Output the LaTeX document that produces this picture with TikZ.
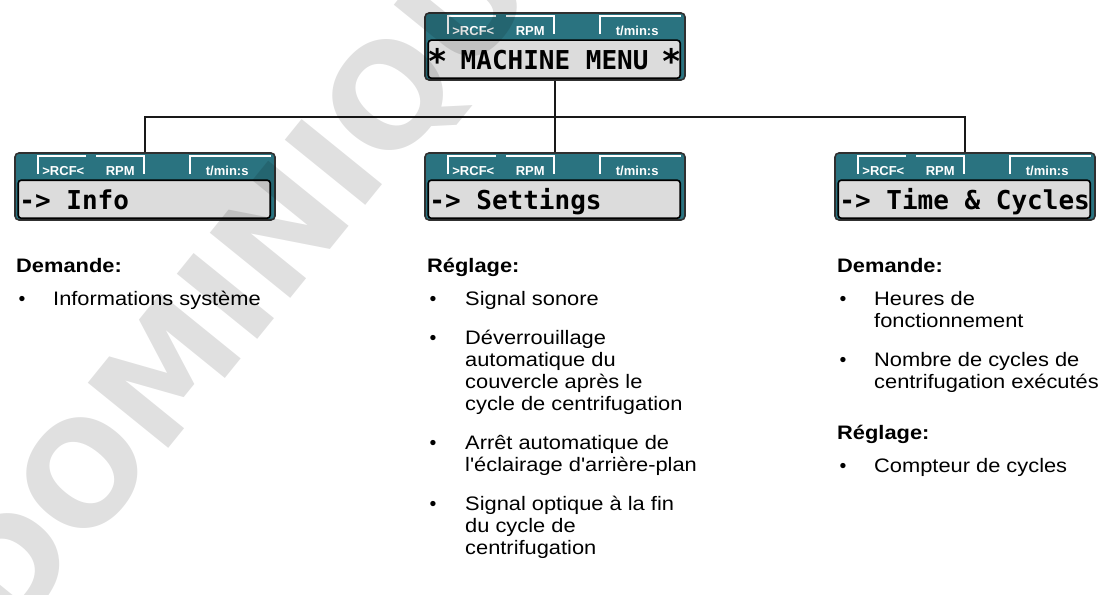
\documentclass[tikz,border=0pt]{standalone}
\usepackage{fontspec}
\usepackage{graphicx}
\setmainfont{Liberation Sans}[Ligatures=TeXOff]
\newfontfamily\lcdfont{DejaVu Sans Mono}
\newfontfamily\wmfont{DejaVu Sans}
\usetikzlibrary{calc}
\definecolor{lcdteal}{HTML}{2A7380}
\definecolor{lcdbg}{HTML}{DCDCDC}
\definecolor{lcdframe}{HTML}{303030}
\newcommand\lcdstar{\makebox[0.602em]{\raisebox{-0.18em}{\scalebox{1.3}{*}}}}
\newcommand\lines[1]{\scalebox{1.12}[1]{\begin{tabular}[t]{@{}l@{}}#1\end{tabular}}}
\newcommand\wide[1]{\scalebox{1.12}[1]{#1}}
\tikzset{
  lcdbox/.style={rectangle, rounded corners=4pt, fill=lcdteal, draw=lcdframe,
    line width=1.6pt, minimum width=260pt, minimum height=67pt, inner sep=0pt},
  lcddisp/.style={fill=lcdbg, draw=black, line width=1.6pt, rounded corners=3pt},
  tabline/.style={draw=white, line width=2pt},
  tablabel/.style={text=white, font=\fontsize{13}{15}\selectfont\bfseries, inner sep=0pt, anchor=base},
  lcdtext/.style={font=\fontsize{26}{28}\selectfont\lcdfont\bfseries, inner sep=0pt, anchor=base west},
  conn/.style={draw=black!90, line width=1.5pt},
  head/.style={anchor=base west, inner sep=0pt, font=\fontsize{19.5}{22}\selectfont\bfseries},
  item/.style={anchor=base west, inner sep=0pt, font=\fontsize{19.5}{22}\selectfont},
  bul/.style={anchor=base, inner sep=0pt, font=\fontsize{19.5}{22}\selectfont},
  wmark/.style={anchor=base, inner sep=0pt, rotate=51, text=black, text opacity=0.12,
    font=\fontsize{142}{150}\selectfont\wmfont\bfseries},
}
\newcommand\lcdunit[3]{%
  \node[lcdbox] (#1) at (#2) {};
  \draw[lcddisp] ($(#1.north west)+(4,28)$) rectangle ($(#1.north west)+(256,66)$);
  \draw[tabline] ($(#1.north west)+(24,22)$) |- ($(#1.north west)+(72,4)$);
  \draw[tabline] ($(#1.north west)+(82,4)$) -| ($(#1.north west)+(130,22)$);
  \draw[tabline] ($(#1.north west)+(176,22)$) |- ($(#1.north west)+(257,4)$);
  \node[tablabel, anchor=base west] (#1-rcf) at ($(#1.north west)+(28,23)$) {>RCF<};
  \node[tablabel] (#1-rpm) at ($(#1.north west)+(106,23)$) {RPM};
  \node[tablabel] (#1-tm) at ($(#1.north west)+(213,23)$) {t/min:s};
  \node[lcdtext] (#1-txt) at ($(#1.north west)+(5,57)$) {#3};
}
\begin{document}
\begin{tikzpicture}[x=1pt,y=-1pt]
\useasboundingbox (0,0) rectangle (1102,594);
\fill[white] (0,0) rectangle (1102,594);

\lcdunit{top}{555,46.5}{\lcdstar{} MACHINE MENU \lcdstar}
\lcdunit{info}{145,186.5}{-> Info}
\lcdunit{set}{555,186.5}{-> Settings}
\lcdunit{time}{965,186.5}{-> Time \& Cycles}

\coordinate (bus) at (555,117);
\draw[conn] (top.south) -- (bus);
\draw[conn] (info.north) |- (bus) -| (time.north);
\draw[conn] (bus) -- (set.north);

% column 1
\node[head] (h1) at (16,272) {\wide{Demande:}};
\node[bul] (b11) at (22,305) {•};
\node[item] (i11) at (53,305) {\lines{Informations système}};

% column 2
\node[head] (h2) at (427,272) {\wide{Réglage:}};
\node[bul] (b21) at (433,305) {•};
\node[item] (i21) at (465,305) {\lines{Signal sonore}};
\node[bul] (b22) at (433,344) {•};
\node[item] (i22) at (465,344) {\lines{Déverrouillage\\automatique du\\couvercle après le\\cycle de centrifugation}};
\node[bul] (b23) at (433,449) {•};
\node[item] (i23) at (465,449) {\lines{Arrêt automatique de\\l'éclairage d'arrière-plan}};
\node[bul] (b24) at (433,510) {•};
\node[item] (i24) at (465,510) {\lines{Signal optique à la fin\\du cycle de\\centrifugation}};

% column 3
\node[head] (h3) at (837,272) {\wide{Demande:}};
\node[bul] (b31) at (843,305) {•};
\node[item] (i31) at (874,305) {\lines{Heures de\\fonctionnement}};
\node[bul] (b32) at (843,366) {•};
\node[item] (i32) at (874,366) {\lines{Nombre de cycles de\\centrifugation exécutés}};
\node[head] (h4) at (837,439) {\wide{Réglage:}};
\node[bul] (b41) at (843,472) {•};
\node[item] (i41) at (874,472) {\lines{Compteur de cycles}};

% watermark
\node[wmark] (wm) at (305,280) {DOMINIQUE};
\end{tikzpicture}
\end{document}
